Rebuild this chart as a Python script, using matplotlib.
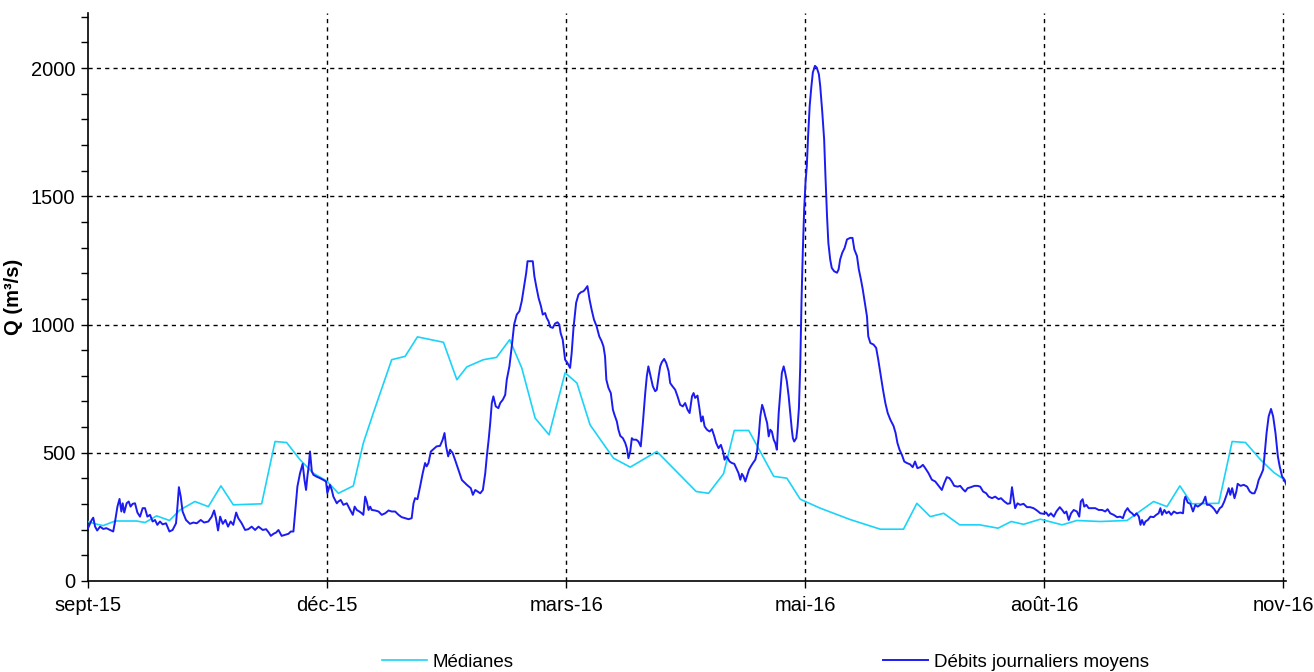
import matplotlib
matplotlib.use("Agg")
import matplotlib.pyplot as plt
from matplotlib.ticker import MultipleLocator
import pandas as pd

plt.rcParams.update({
    "font.family": ["Liberation Sans", "DejaVu Sans"],
    "font.size": 14,
})

START = pd.Timestamp("2015-09-01")

# jours depuis le 1er sept. 2015 / debit journalier moyen (m3/s)
debit_days = [
    0, 1.4, 2, 2.7, 3.5, 4.6, 5.8, 7, 8.4, 9.6, 10.3, 11.2, 12, 12.7, 13.2, 13.8, 14.7, 15.5,
    16.2, 17, 17.9, 18.8, 19.8, 20.8, 21.7, 22.6, 23.6, 24.6, 25.5, 26.4, 27.4, 28.4, 29.7, 31,
    32.2, 33.5, 34.1, 34.6, 35.3, 36, 37.3, 38.8, 40.1, 41.4, 42.9, 44.2, 45.8, 47.1, 48, 48.7,
    49.5, 50.3, 51.3, 52.3, 53.3, 54.3, 55.3, 56.4, 57.2, 58.5, 59.8, 61, 62.3, 63.6, 64.9, 66.5,
    67.8, 68.8, 69.6, 70.6, 71.6, 72.5, 73.7, 75, 76.3, 77.2, 78.2, 78.8, 79.7, 80.7, 81.7, 82.4,
    83, 83.5, 84, 84.5, 85.2, 85.8, 87, 88.3, 89.6, 90.6, 91.1, 92.1, 92.8, 93.4, 94.7, 95.3,
    96.2, 97.2, 98.5, 99.8, 100.8, 101.5, 102.3, 103.3, 104.2, 104.8, 105.5, 106.1, 106.8, 107.4,
    108, 109.3, 110.6, 111.8, 113.1, 114.4, 115.6, 116.9, 118.2, 119.4, 120.7, 122, 123.2, 123.9,
    124.5, 125.4, 126.4, 127.4, 128.3, 128.9, 129.6, 130.5, 131.5, 132.7, 134, 135, 135.7, 136.3,
    137.1, 137.8, 138.8, 139.7, 141, 142.3, 144.2, 145.7, 146.5, 147.4, 148.3, 149.3, 150.3,
    151.2, 151.8, 152.5, 153.1, 153.7, 154.3, 155.2, 156.2, 156.9, 157.9, 158.8, 159.4, 160.4,
    161.3, 162.2, 163.2, 164.2, 165.1, 166, 166.8, 167.3, 169.3, 169.9, 170.6, 171.5, 172.4,
    173.1, 174, 174.6, 175.3, 175.9, 176.9, 177.8, 178.7, 179.4, 179.9, 180.7, 181.6, 182.5,
    183.5, 184.1, 184.8, 185.8, 186.7, 187.6, 188.6, 189.2, 190.1, 190.9, 191.7, 192.6, 193.6,
    194.6, 195.5, 196.2, 196.8, 197.3, 198.1, 199, 199.8, 200.4, 201.3, 201.9, 202.6, 203.6,
    204.5, 205.1, 205.7, 206.4, 207, 207.6, 208.7, 209.5, 210.4, 211.2, 212.1, 212.7, 213.3,
    214, 215, 215.9, 216.5, 217.2, 217.8, 218.4, 219.3, 220.1, 221, 221.6, 222.5, 223.5, 224.4,
    225.4, 226.4, 227.3, 228.2, 229, 229.9, 230.5, 231.1, 232, 232.8, 233.4, 234, 234.7, 235.6,
    236.6, 237.5, 238.4, 239.1, 240, 240.9, 241.7, 242.3, 243, 243.5, 244.2, 245.1, 246, 247,
    247.6, 248.3, 248.9, 249.5, 250.2, 250.8, 251.6, 252.3, 253.1, 254, 254.6, 255.3, 255.9,
    256.6, 257.2, 257.8, 258.5, 259.1, 259.7, 260.3, 261, 261.6, 262.2, 262.9, 263.5, 264.1,
    264.8, 265.4, 266, 266.7, 267.3, 267.9, 268.3, 268.8, 269.6, 270.1, 270.6, 271.1, 271.6,
    272.1, 272.6, 273.1, 273.6, 274.1, 274.7, 275.3, 275.9, 276.7, 277.4, 278.2, 278.7, 279.5,
    280.2, 280.7, 281.3, 281.8, 282.5, 283.1, 284, 285.1, 285.7, 286.3, 287.1, 288, 288.9,
    290.1, 291, 291.7, 292.7, 293.4, 294.2, 294.9, 295.7, 296.5, 297, 297.8, 299, 300, 300.8,
    301.6, 302.6, 303.5, 304.4, 305.4, 306.6, 307.4, 308.1, 308.9, 309.8, 310.7, 311.7, 312.9,
    313.9, 314.8, 315.7, 316.8, 317.8, 318.7, 319.9, 321.2, 322.5, 323.8, 325, 325.9, 326.9,
    327.9, 328.8, 329.7, 331, 332, 333, 333.9, 334.8, 336.1, 337.4, 338.6, 339.6, 340.7, 341.9,
    342.8, 344.1, 345.3, 346.6, 347.5, 348.8, 350, 351, 351.7, 352.3, 352.9, 353.8, 354.8,
    356.1, 357.4, 358.6, 359.9, 361.2, 362.5, 363.7, 364.7, 365.6, 366.5, 367.6, 368.6, 369.9,
    370.8, 371.7, 372.4, 373.3, 374.2, 375.2, 376.4, 377.3, 377.9, 378.6, 379.2, 380, 380.9,
    382.2, 383.4, 384.7, 386, 387.2, 388.1, 389.1, 390.4, 391.7, 392.9, 393.9, 394.8, 395.7,
    396.5, 397.4, 398.3, 399.1, 400, 400.6, 401.2, 401.9, 402.5, 403.4, 404.4, 405.6, 406.6,
    407.5, 408.2, 408.8, 409.7, 410.5, 411.4, 412.3, 413.3, 414.5, 415.8, 416.8, 417.3, 417.7,
    418.6, 419.6, 420.6, 421.5, 422.4, 423.4, 424.4, 425.3, 425.9, 426.9, 427.8, 428.7, 429.7,
    430.8, 431.6, 432.5, 433.6, 434.2, 434.8, 435.5, 436.4, 437.1, 437.6, 438.7, 439.9, 441.2,
    442.2, 443.1, 444, 444.8, 445.6, 446.5, 447.3, 447.8, 448.6, 449.4, 450.3, 451.1, 452,
    452.9, 453.6, 454.5, 455.4, 456.4,
]
debit_values = [
    206, 238, 247, 212, 197, 212, 203, 206, 199, 193, 232, 290, 320, 271, 303, 267, 303, 310,
    290, 301, 303, 267, 251, 284, 284, 251, 258, 232, 238, 219, 232, 221, 225, 193,
    199, 225, 297, 366, 329, 271, 238, 223, 228, 225, 238, 228, 232, 251, 275, 245,
    197, 251, 223, 238, 212, 232, 219, 267, 245, 225, 199, 202, 212, 199, 212, 199,
    202, 189, 176, 184, 189, 199, 176, 180, 184, 193, 193, 264, 368, 420, 457, 394,
    355, 407, 447, 505, 427, 414, 407, 401, 394, 388, 342, 375, 355, 329, 303, 310,
    316, 297, 303, 277, 258, 290, 277, 271, 264, 258, 329, 310, 277, 290,
    277, 275, 271, 258, 264, 275, 271, 271, 258, 249, 245, 241, 245, 303,
    323, 319, 368, 420, 460, 447, 460, 505, 514, 525, 527, 551, 577, 525,
    486, 512, 499, 473, 434, 394, 375, 362, 336, 355, 349, 342, 355,
    420, 486, 551, 616, 694, 720, 681, 674, 694, 707, 726, 785, 837,
    915, 1000, 1039, 1052, 1091, 1150, 1202, 1247, 1247, 1189, 1150, 1104, 1072,
    1039, 1045, 1026, 1013, 991, 987, 1004, 1009, 1000, 967, 941, 863, 850,
    831, 889, 987, 1085, 1117, 1126, 1130, 1137, 1150, 1098, 1058, 1019, 993,
    954, 935, 915, 876, 785, 753, 733, 668, 648, 622, 590, 566, 557,
    538, 518, 479, 505, 557, 551, 551, 544, 525, 616, 733, 798, 837,
    805, 759, 740, 746, 798, 837, 853, 866, 850, 818, 772, 759, 746, 720,
    687, 681, 694, 668, 655, 720, 733, 714, 723, 668, 622, 642, 603, 590,
    583, 592, 564, 538, 518, 531, 505, 473, 486, 479, 466, 460, 457, 434,
    421, 395, 418, 408, 388, 408, 434, 447, 460, 473, 499, 564, 642,
    687, 668, 642, 616, 564, 590, 583, 551, 538, 512, 655, 733, 811,
    837, 811, 779, 720, 655, 590, 557, 544, 557, 603, 674, 837, 1098,
    1293, 1449, 1553, 1618, 1736, 1853, 1924, 1983, 2009, 2002, 1976, 1931, 1827,
    1722, 1579, 1423, 1319, 1254, 1221, 1208, 1202, 1215, 1254, 1280, 1299, 1332,
    1338, 1338, 1293, 1267, 1215, 1176, 1137, 1085, 1032, 954, 928, 922, 909, 863,
    811, 746, 694, 655, 629, 605, 577, 538, 512, 492, 466, 460, 455,
    444, 466, 440, 444, 453, 440, 421, 395, 388, 371, 355, 381, 405,
    401, 388, 371, 368, 371, 358, 349, 362, 366, 371, 371, 368, 349, 342,
    329, 323, 329, 319, 323, 310, 301, 303, 366, 323, 284, 303, 297,
    301, 288, 288, 284, 275, 264, 262, 267, 254, 264, 251, 271, 288,
    277, 264, 271, 238, 264, 277, 271, 251, 310, 319, 290, 297, 284,
    284, 284, 277, 277, 271, 280, 264, 258, 249, 251, 245, 271, 284,
    271, 264, 254, 264, 251, 219, 238, 219, 232, 238, 251, 249, 258,
    264, 284, 258, 277, 264, 271, 258, 271, 264, 267, 264, 316, 329,
    306, 301, 271, 297, 290, 297, 306, 329, 297, 297, 290, 280, 264,
    284, 290, 310, 342, 362, 336, 362, 323, 349, 379, 371, 375, 368,
    349, 342, 342, 362, 394, 414, 434, 486, 577, 642, 671, 642, 577,
    486, 447, 408, 394, 368,
]

# medianes interannuelles (m3/s)
mediane_days = [
    0, 2.7, 5.8, 10.3, 18.5, 21.7, 26.1, 31, 35, 40.7, 45.8, 50.6, 55.3, 66.1, 71.2, 75.6,
    80.7, 85.8, 90.9, 95.3, 101, 104.8, 108.6, 115.6, 120.7, 125.4, 135.3, 140.4, 144.2,
    150.5, 155.5, 160.5, 165.1, 170.2, 175.5, 181.6, 186.1, 191.1, 200, 206.4, 216.5, 231.5,
    236.2, 241.9, 246, 251.5, 261, 266, 271.1, 278.7, 290, 301.6, 310.4, 315.5, 320.6, 325.7,
    331.8, 339.4, 346.4, 351.4, 356.1, 362.5, 370.8, 376.4, 385.3, 395.5, 405.6, 410.7,
    415.6, 420.2, 430.4, 435.5, 440.6, 446.3, 451.4, 456.4,
]
mediane_values = [
    232, 223, 216, 234, 234, 228, 254, 236, 277, 310, 290, 371, 297, 301, 544, 540,
    473, 420, 390, 342, 371, 538, 655, 863, 876, 952, 931, 785, 835,
    863, 872, 941, 831, 635, 570, 812, 772, 609, 479, 444, 505, 349,
    342, 418, 587, 587, 408, 401, 319, 284, 240, 202, 202, 303, 251, 264,
    219, 219, 206, 232, 221, 241, 219, 236, 232, 236, 310, 290,
    371, 301, 303, 544, 540, 473, 423, 388,
]

tick_days = [0, 91, 182, 273, 364, 455]
tick_labels = ["sept-15", "déc-15", "mars-16", "mai-16", "août-16", "nov-16"]


def to_dates(days):
    return START + pd.to_timedelta(days, unit="D")


fig = plt.figure(figsize=(13.14, 6.72), dpi=100)
ax = fig.add_axes([88 / 1314, 91 / 672, 1198 / 1314, 568 / 672])

ax.plot(to_dates(mediane_days), mediane_values, color="#1BD3F8", linewidth=1.2,
        label="Médianes", zorder=3)
ax.plot(to_dates(debit_days), debit_values, color="#1C1CF2", linewidth=1.4,
        label="Débits journaliers moyens", zorder=4)

ax.set_xlim(START, START + pd.Timedelta(days=456))
ax.set_ylim(0, 2215)
ax.set_xticks(to_dates(tick_days))
ax.set_xticklabels(tick_labels)
ax.yaxis.set_major_locator(MultipleLocator(500))
ax.yaxis.set_minor_locator(MultipleLocator(100))
ax.tick_params(axis="both", which="both", direction="out", length=5, width=1,
               labelsize=14.5, color="black")
ax.tick_params(axis="x", pad=6)
ax.tick_params(axis="y", pad=4)

for spine in ("top", "right"):
    ax.spines[spine].set_visible(False)
for spine in ("left", "bottom"):
    ax.spines[spine].set_linewidth(1.2)

for v in (500, 1000, 1500, 2000):
    ax.axhline(v, color="black", linestyle=(0, (3, 3)), linewidth=1, zorder=1)
for d in tick_days[1:]:
    ax.axvline(START + pd.Timedelta(days=d), color="black", linestyle=(0, (3, 3)),
               linewidth=1, zorder=1)

ax.set_ylabel("Q (m³/s)", fontweight="bold", fontsize=14.5)
ax.yaxis.set_label_coords(-0.054, 0.5)

handles, labels = ax.get_legend_handles_labels()
fig.legend([handles[0]], [labels[0]], loc="center left", frameon=False,
           bbox_to_anchor=(373 / 1314, 10 / 672), borderpad=0, handlelength=2.4,
           handletextpad=0.3, fontsize=13.5)
fig.legend([handles[1]], [labels[1]], loc="center left", frameon=False,
           bbox_to_anchor=(874 / 1314, 10 / 672), borderpad=0, handlelength=2.4,
           handletextpad=0.3, fontsize=13.5)

fig.savefig("out.png", dpi=100)
